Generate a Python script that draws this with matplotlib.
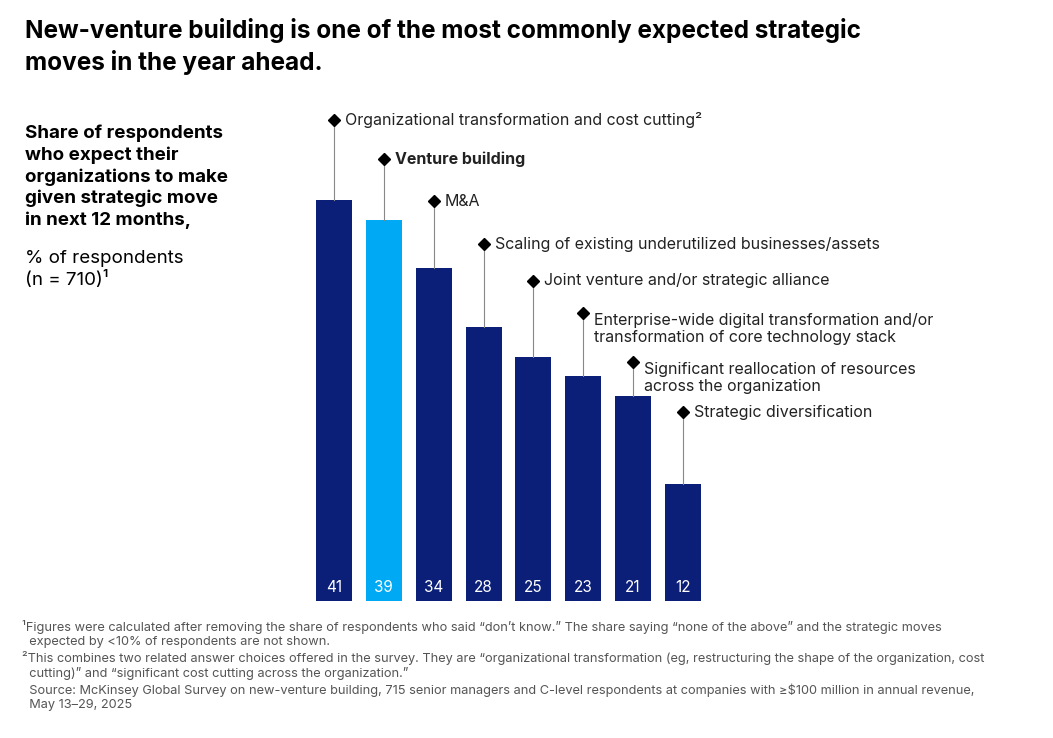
import matplotlib
matplotlib.use("Agg")
import matplotlib.pyplot as plt

plt.rcParams['font.family'] = ['Inter', 'DejaVu Sans']

moves = ["Organizational transformation and cost cutting²", "Venture building", "M&A",
         "Scaling of existing underutilized businesses/assets",
         "Joint venture and/or strategic alliance",
         "Enterprise-wide digital transformation and/or\ntransformation of core technology stack",
         "Significant reallocation of resources\nacross the organization",
         "Strategic diversification"]
values = [41, 39, 34, 28, 25, 23, 21, 12]
label_px = [120, 159, 201, 244, 281, 313, 362, 412]  # vertical pixel of each label's diamond

navy = "#0b1f78"
cyan = "#00a9f4"
colors = [navy, cyan] + [navy] * 6

W, H = 1053, 738
fig = plt.figure(figsize=(W / 100, H / 100), dpi=100)
ax_left, ax_right, ax_bot, ax_top = 309, 708, 601, 100
ax = fig.add_axes([ax_left / W, 1 - ax_bot / H, (ax_right - ax_left) / W, (ax_bot - ax_top) / H])
px_per_unit = 9.78
ymax = (ax_bot - ax_top) / px_per_unit
ax.set_ylim(0, ymax)
ax.set_xlim(-0.5, 7.5)
ax.axis('off')

x = list(range(len(values)))
ax.bar(x, values, width=0.72, color=colors)
for i, v in enumerate(values):
    ax.text(i, 0.6, str(v), ha='center', va='bottom', color='white', fontsize=11)
    ly = (ax_bot - label_px[i]) / px_per_unit
    ax.plot([i, i], [v, ly], color='#888888', lw=0.8)
    ax.plot(i, ly, marker='D', color='black', markersize=6.5)
    ax.text(i + 0.22, ly, moves[i], ha='left', va='top' if '\n' in moves[i] else 'center',
            fontsize=11.5, color='#222222', fontweight='bold' if i == 1 else 'normal',
            linespacing=1.2, clip_on=False, transform=ax.transData)

# fix vertical alignment for two-line labels so first line sits on the diamond
fig.text(25 / W, 1 - 18 / H, "New-venture building is one of the most commonly expected strategic\nmoves in the year ahead.",
         ha='left', va='top', fontsize=17.5, fontweight='bold', linespacing=1.35)
fig.text(25 / W, 1 - 125 / H, "Share of respondents\nwho expect their\norganizations to make\ngiven strategic move\nin next 12 months,",
         ha='left', va='top', fontsize=13.5, fontweight='bold', linespacing=1.3)
fig.text(25 / W, 1 - 250 / H, "% of respondents\n(n = 710)¹", ha='left', va='top', fontsize=13.5, linespacing=1.3)

foot = ("¹Figures were calculated after removing the share of respondents who said \u201cdon\u2019t know.\u201d The share saying \u201cnone of the above\u201d and the strategic moves\n"
        "  expected by <10% of respondents are not shown.\n"
        "²This combines two related answer choices offered in the survey. They are \u201corganizational transformation (eg, restructuring the shape of the organization, cost\n"
        "  cutting)\u201d and \u201csignificant cost cutting across the organization.\u201d\n"
        "  Source: McKinsey Global Survey on new-venture building, 715 senior managers and C-level respondents at companies with \u2265$100 million in annual revenue,\n"
        "  May 13\u201329, 2025")
fig.text(22 / W, 1 - 620 / H, foot, ha='left', va='top', fontsize=9.2, color='#555555', linespacing=1.25)

fig.savefig("out.png", dpi=100)
